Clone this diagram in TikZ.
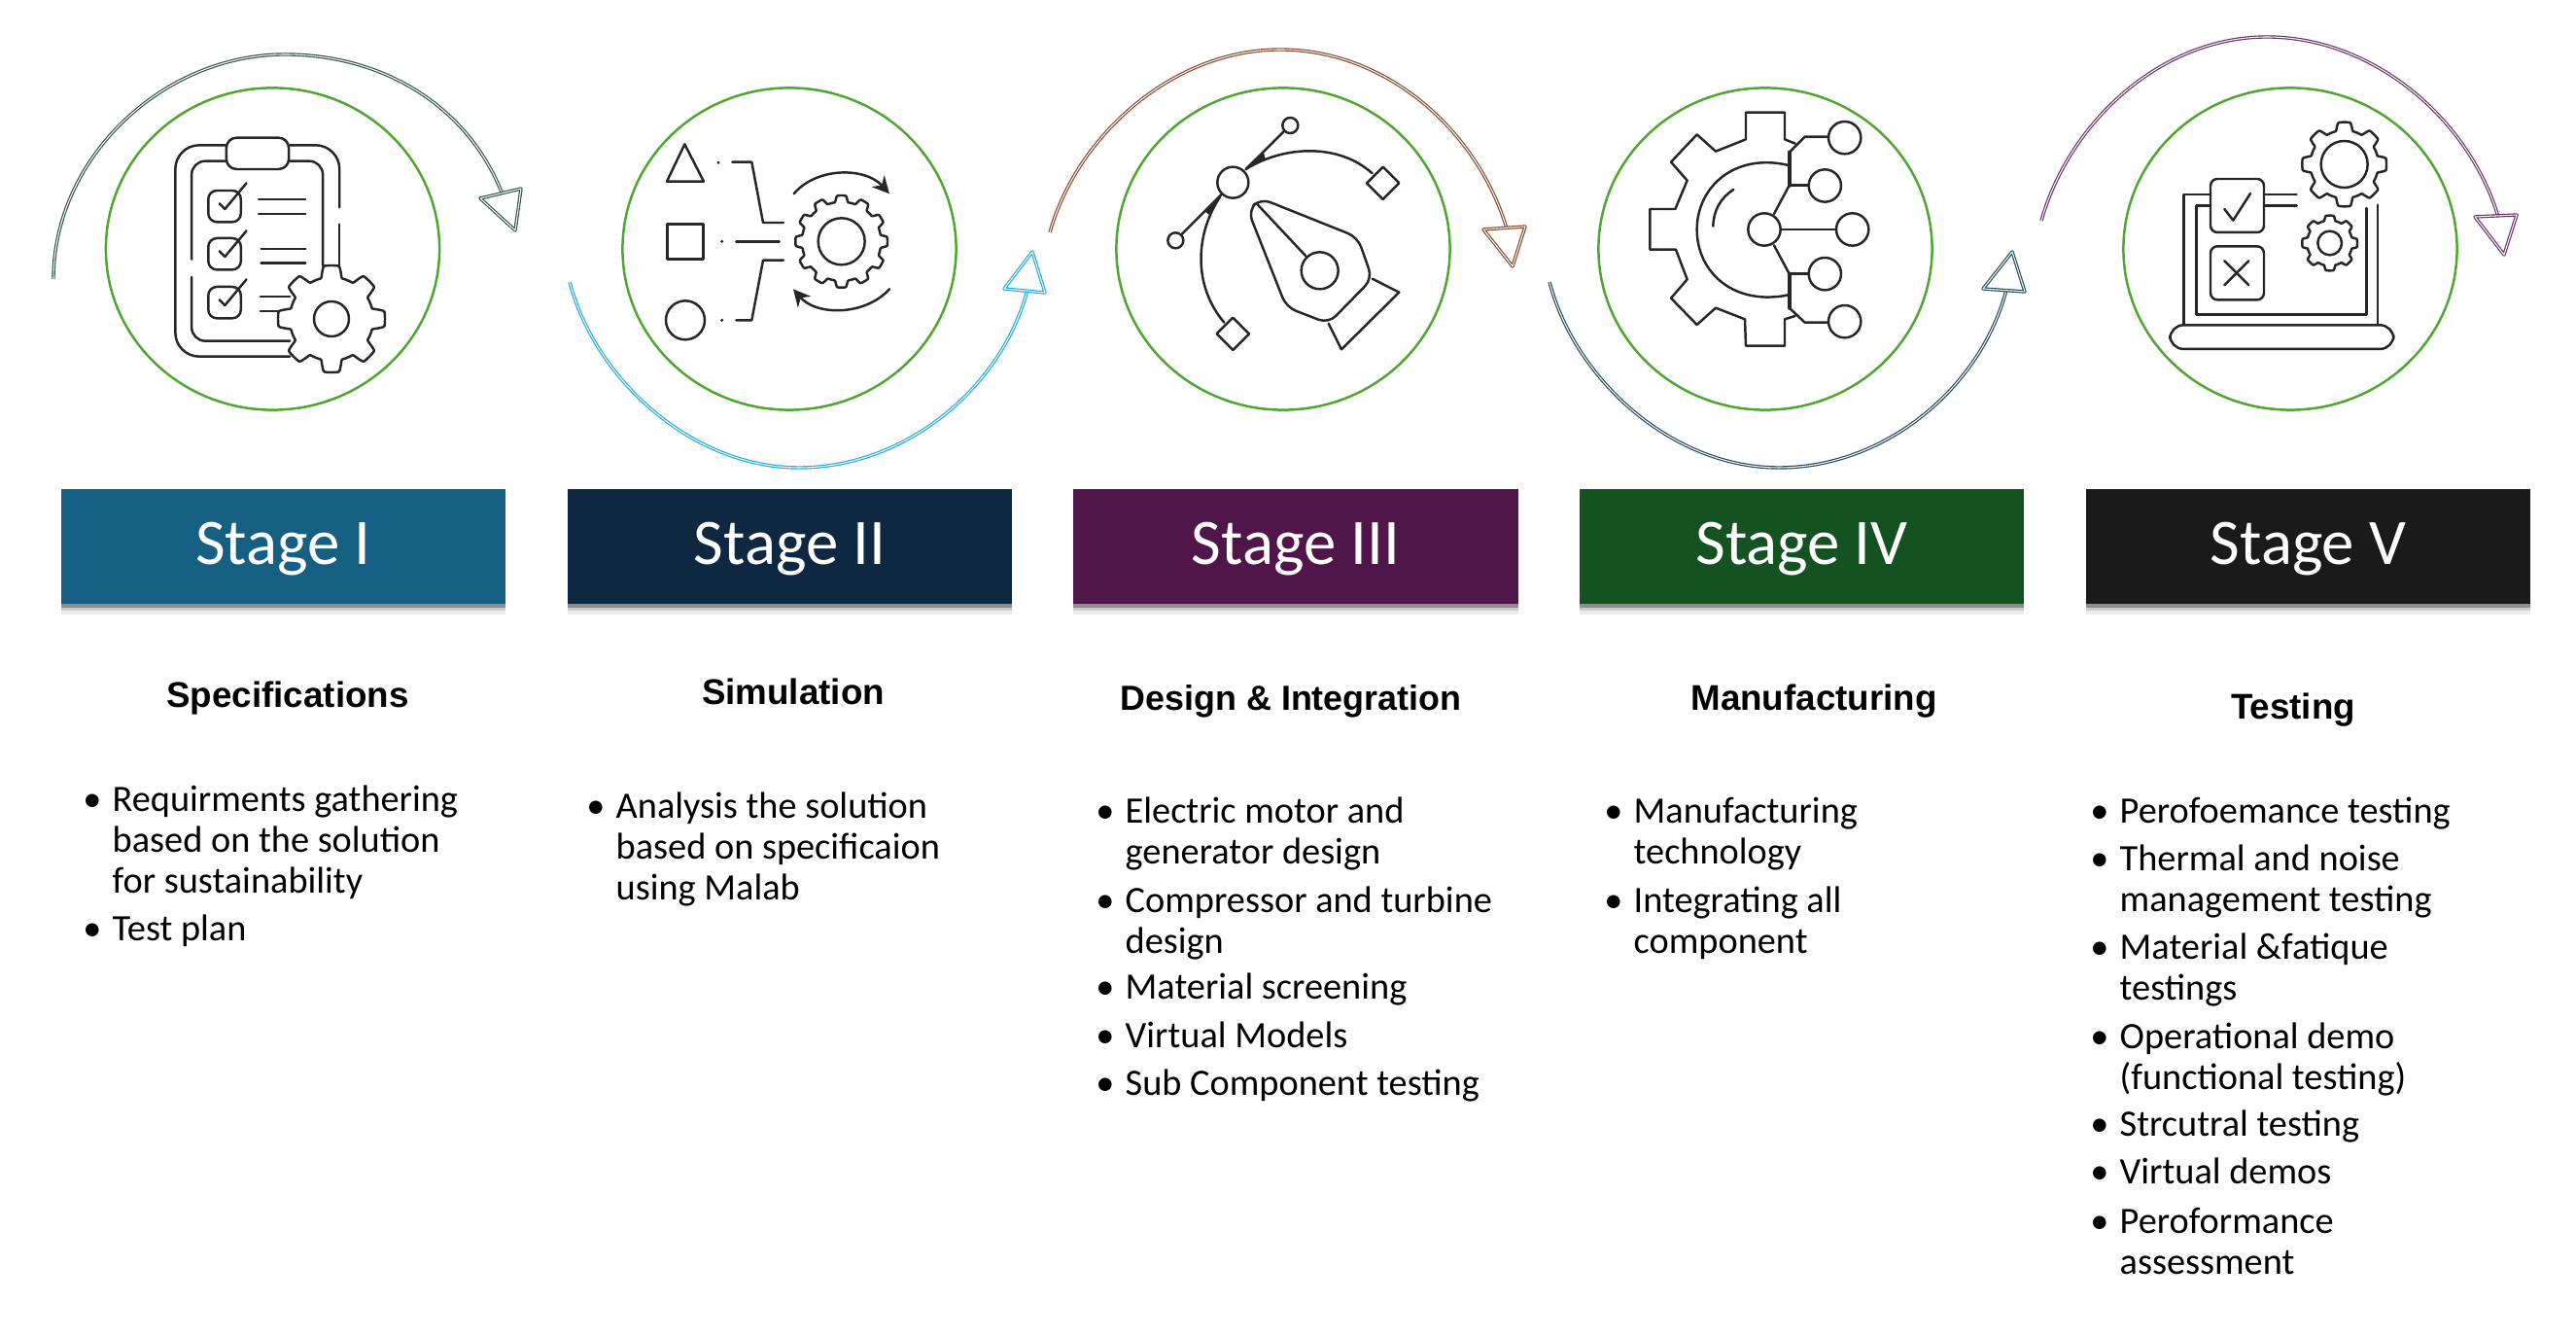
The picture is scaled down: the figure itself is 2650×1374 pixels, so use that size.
\documentclass[tikz,border=0pt]{standalone}
\usepackage{fontspec}
\setmainfont{Carlito}
\newfontfamily\headfont{Liberation Sans}
\usetikzlibrary{arrows.meta,shapes.geometric,shadows}
\definecolor{stageA}{RGB}{21,96,130}
\definecolor{stageB}{RGB}{14,40,65}
\definecolor{stageC}{RGB}{80,21,73}
\definecolor{stageD}{RGB}{20,82,33}
\definecolor{stageE}{RGB}{26,26,26}
\definecolor{ringgreen}{RGB}{78,167,46}
\definecolor{loopA}{RGB}{45,85,65}
\definecolor{loopB}{RGB}{30,170,235}
\definecolor{loopC}{RGB}{135,70,40}
\definecolor{loopD}{RGB}{30,70,95}
\definecolor{loopE}{RGB}{105,45,105}
\tikzset{
  stagebox/.style={rectangle,minimum width=4.57cm,minimum height=1.18cm,inner sep=0pt,text=white,
    text height=14pt,text depth=3.3pt,
    font=\fontsize{19pt}{23pt}\selectfont,
    drop shadow={shadow xshift=0pt,shadow yshift=-3pt,fill=black,opacity=.07},
    drop shadow={shadow xshift=0pt,shadow yshift=-2pt,fill=black,opacity=.14},
    drop shadow={shadow xshift=0pt,shadow yshift=-1pt,fill=black,opacity=.3}},
  headtext/.style={inner sep=0pt,font=\headfont\bfseries\fontsize{10.45pt}{12pt}\selectfont},
  itemtext/.style={anchor=base west,inner sep=0pt,align=left,font=\fontsize{10.9pt}{11.95pt}\selectfont},
  ringnode/.style={ellipse,draw=ringgreen,line width=0.7pt,minimum width=3.43cm,minimum height=3.31cm,inner sep=0pt},
  iconline/.style={draw=black!85,line width=0.7pt,line join=round,line cap=round},
  loopline/.style={line width=0.33pt,double=white,double distance=0.3pt},
  looptip/.style={loopline,line join=round}
}
\newcommand{\bul}{\llap{•\hspace{3.2pt}}}
% gear outline: centre x, centre y, inner radius, outer radius, teeth, hole
\newcommand{\gearicon}[6]{
  \draw[iconline,fill=white] plot[domain=0:360,samples=241,variable=\ang]
    ({#1+(#3+(#4-#3)*max(0,min(1,.5+1.3*cos(#5*\ang))))*cos(\ang)},
     {#2+(#3+(#4-#3)*max(0,min(1,.5+1.3*cos(#5*\ang))))*sin(\ang)}) -- cycle;
  \draw[iconline] (#1,#2) circle (#6);
}
\begin{document}
\begin{tikzpicture}[x=0.01cm,y=-0.01cm]
  \useasboundingbox (0,0) rectangle (2650,1374);
  \fill[white] (0,0) rectangle (2650,1374);
  % rings
  \node[ringnode] (ring1) at (280.5,256) {};
  \node[ringnode] (ring2) at (812,256) {};
  \node[ringnode] (ring3) at (1320,256) {};
  \node[ringnode] (ring4) at (1816,256) {};
  \node[ringnode] (ring5) at (2356,256) {};
  % loops between the stages
  \coordinate (loop1s) at (55,287);
  \coordinate (loop1m) at (293,56);
  \coordinate (loop1e) at (517,200);
  \draw[loopline,loopA] (loop1s) .. controls +(0,-125) and +(-125,0) .. (loop1m)
     .. controls +(100,0) and +(-36,-92) .. (loop1e);
  \draw[looptip,loopA] (494,204) -- (536,194) -- (530,237) -- cycle;
  \coordinate (loop2s) at (586,290);
  \coordinate (loop2m) at (822,481);
  \coordinate (loop2e) at (1057,298);
  \draw[loopline,loopB] (loop2s) .. controls +(26,100) and +(-110,0) .. (loop2m)
     .. controls +(110,0) and +(-26,100) .. (loop2e);
  \draw[looptip,loopB] (1033,297) -- (1062,259) -- (1075,301) -- cycle;
  \coordinate (loop3s) at (1080,239);
  \coordinate (loop3m) at (1317,51);
  \coordinate (loop3e) at (1550,235);
  \draw[loopline,loopC] (loop3s) .. controls +(28,-100) and +(-110,0) .. (loop3m)
     .. controls +(110,0) and +(-30,-100) .. (loop3e);
  \draw[looptip,loopC] (1526,236) -- (1569,233) -- (1556,274) -- cycle;
  \coordinate (loop4s) at (1594,290);
  \coordinate (loop4m) at (1830,481);
  \coordinate (loop4e) at (2064,298);
  \draw[loopline,loopD] (loop4s) .. controls +(26,100) and +(-110,0) .. (loop4m)
     .. controls +(110,0) and +(-26,100) .. (loop4e);
  \draw[looptip,loopD] (2040,297) -- (2070,259) -- (2083,300) -- cycle;
  \coordinate (loop5s) at (2100,227);
  \coordinate (loop5m) at (2332,38);
  \coordinate (loop5e) at (2570,223);
  \draw[loopline,loopE] (loop5s) .. controls +(28,-100) and +(-110,0) .. (loop5m)
     .. controls +(110,0) and +(-30,-100) .. (loop5e);
  \draw[looptip,loopE] (2546,223) -- (2589,221) -- (2576,262) -- cycle;
  % clipboard
  \begin{scope}[shift={(0,20)},xscale=1/2.8,yscale=1/3]
    \draw[iconline,rounded corners=7pt] (650,388) -- (505,388) -- (505,1040) -- (835,1040);
    \draw[iconline,rounded corners=7pt] (835,388) -- (978,388) -- (978,580);
    \draw[iconline] (978,632) -- (978,760);
    \draw[iconline,rounded corners=4pt] (650,437) -- (552,437) -- (552,740);
    \draw[iconline,rounded corners=4pt] (552,795) -- (552,992) -- (835,992);
    \draw[iconline,rounded corners=4pt] (835,437) -- (930,437) -- (930,760);
    \draw[iconline,rounded corners=3pt] (652,365) rectangle (832,462);
    \foreach \boxy in {528,675,825} {
      \draw[iconline,rounded corners=2.5pt] (600,\boxy) rectangle +(94,97);
      \draw[iconline] (632,\boxy+40) -- (648,\boxy+57) -- (710,\boxy-23);
    }
    \draw[iconline] (745,555) -- (880,555);
    \draw[iconline] (745,600) -- (880,600);
    \draw[iconline] (752,708) -- (880,708);
    \draw[iconline] (752,752) -- (880,752);
    \draw[iconline] (750,855) -- (835,855);
    \draw[iconline] (750,900) -- (810,900);
  \end{scope}
  \gearicon{341}{328}{43}{55}{8}{18}
  % shapes and gear
  \begin{scope}[shift={(560,20)},scale=1/3]
    \draw[iconline] (433,385) -- (492,500) -- (378,500) -- cycle;
    \draw[iconline] (380,632) rectangle (490,740);
    \draw[iconline] (435,928) circle (60);
    \fill[black!85] (537,442) circle (5);
    \fill[black!85] (548,685) circle (5);
    \fill[black!85] (548,928) circle (5);
    \draw[iconline] (580,440) -- (640,440) -- (675,627) -- (738,627);
    \draw[iconline] (592,685) -- (725,685);
    \draw[iconline] (592,928) -- (640,928) -- (675,743) -- (738,743);
    \draw[iconline,-{Stealth[length=5pt,width=5pt]}] (770,538) .. controls (840,455) and (990,455) .. (1065,538);
    \draw[iconline,-{Stealth[length=5pt,width=5pt]}] (1065,832) .. controls (990,915) and (840,915) .. (768,832);
    \gearicon{917}{685}{122}{142}{12}{72}
  \end{scope}
  % pen nib and curve
  \begin{scope}[shift={(1060,20)},scale=1/3]
    \draw[iconline] (625,503) circle (48);
    \draw[iconline] (802,327) circle (24);
    \draw[iconline] (448,682) circle (24);
    \draw[iconline] (1088,455) -- (1138,505) -- (1088,555) -- (1038,505) -- cycle;
    \draw[iconline] (625,920) -- (675,970) -- (625,1020) -- (575,970) -- cycle;
    \draw[iconline] (665,462) -- (784,344);
    \draw[iconline] (590,540) -- (466,664);
    \draw[iconline] (665,462) .. controls (780,390) and (950,380) .. (1055,475);
    \draw[iconline] (585,548) .. controls (510,660) and (500,820) .. (598,935);
    \fill[black!85] (668,462) -- (720,410) -- (725,430) -- cycle;
    \fill[black!85] (585,545) -- (538,592) -- (555,605) -- cycle;
    \draw[iconline,rounded corners=3pt] (710,552) -- (1010,672) -- (1055,800) -- (920,938) -- (790,888) -- (672,590) -- cycle;
    \draw[iconline] (700,570) -- (850,730);
    \draw[iconline] (893,775) circle (57);
    \draw[iconline] (1055,800) -- (1138,842) -- (960,1018) -- (920,938);
  \end{scope}
  % half gear and nodes
  \begin{scope}[shift={(1570,50)},scale=1/3]
    \draw[iconline] (830,293) -- (798,280) -- (798,197) -- (678,197) -- (678,280) -- (585,317) -- (527,265) -- (447,350)
      -- (497,407) -- (460,495) -- (382,495) -- (382,620) -- (462,620) -- (497,712) -- (447,770) -- (527,852)
      -- (585,800) -- (675,835) -- (678,917) -- (798,917) -- (798,835) -- (830,825);
    \draw[iconline] (810,360) .. controls (640,320) and (527,430) .. (527,558) .. controls (527,690) and (640,795) .. (810,760);
    \draw[iconline] (640,435) .. controls (600,460) and (578,500) .. (577,548);
    \draw[iconline,line width=1.2pt] (812,320) -- (812,422);
    \draw[iconline,line width=1.2pt] (812,695) -- (812,800);
    \draw[iconline] (812,320) -- (860,272) -- (933,272);
    \draw[iconline] (812,422) -- (872,422);
    \draw[iconline] (785,558) -- (957,558);
    \draw[iconline] (765,510) -- (812,422);
    \draw[iconline] (765,607) -- (812,695);
    \draw[iconline] (812,695) -- (872,695);
    \draw[iconline] (812,800) -- (860,845) -- (933,845);
    \draw[iconline] (983,275) circle (50);
    \draw[iconline] (922,423) circle (50);
    \draw[iconline] (735,558) circle (50);
    \draw[iconline] (1007,558) circle (50);
    \draw[iconline] (922,695) circle (50);
    \draw[iconline] (983,842) circle (50);
  \end{scope}
  % laptop
  \begin{scope}[shift={(2080,20)},scale=1/3]
    \gearicon{995}{447}{105}{130}{8}{72}
    \gearicon{950}{690}{70}{85}{8}{37}
    \draw[iconline,rounded corners=2pt] (582,492) rectangle (747,657);
    \draw[iconline] (625,585) -- (652,620) -- (705,537);
    \draw[iconline,rounded corners=2pt] (582,700) rectangle (747,865);
    \draw[iconline] (625,745) -- (700,820);
    \draw[iconline] (700,745) -- (625,820);
    \draw[iconline] (582,540) -- (500,540) -- (500,942);
    \draw[iconline] (582,575) -- (538,575) -- (538,910) -- (1063,910) -- (1063,582);
    \draw[iconline] (1098,572) -- (1098,942);
    \draw[iconline] (747,540) -- (848,540);
    \draw[iconline] (747,575) -- (848,575);
    \draw[iconline,rounded corners=4pt] (457,943) rectangle (1147,1017);
  \end{scope}
  % stage boxes
  \node[stagebox,fill=stageA] (stage1) at (291.5,562) {Stage I};
  \node[stagebox,fill=stageB] (stage2) at (812.5,562) {Stage II};
  \node[stagebox,fill=stageC] (stage3) at (1333,562) {Stage III};
  \node[stagebox,fill=stageD] (stage4) at (1853.5,562) {Stage IV};
  \node[stagebox,fill=stageE] (stage5) at (2374.5,562) {Stage V};
  % headings
  \node[headtext] (head1) at (296,718) {Specifications};
  \node[headtext] (head2) at (816,711) {Simulation};
  \node[headtext,font=\headfont\bfseries\fontsize{10.2pt}{12pt}\selectfont] (head3) at (1328,721) {Design \& Integration};
  \node[headtext] (head4) at (1866,721) {Manufacturing};
  \node[headtext] (head5) at (2359,730) {Testing};
  % lists
  \node[itemtext] (item1a) at (115,919) {\bul Requirments gathering\\based on the solution\\for sustainability};
  \node[itemtext] (item1b) at (115,968) {\bul Test plan};
  \node[itemtext] (item2a) at (633,926) {\bul Analysis the solution\\based on specificaion\\using Malab};
  \node[itemtext] (item3a) at (1157,889) {\bul Electric motor and\\generator design};
  \node[itemtext] (item3b) at (1157,981) {\bul Compressor and turbine\\design};
  \node[itemtext] (item3c) at (1157,1028) {\bul Material screening};
  \node[itemtext] (item3d) at (1157,1078) {\bul Virtual Models};
  \node[itemtext] (item3e) at (1157,1127) {\bul Sub Component testing};
  \node[itemtext] (item4a) at (1680,889) {\bul Manufacturing\\technology};
  \node[itemtext] (item4b) at (1680,981) {\bul Integrating all\\component};
  \node[itemtext] (item5a) at (2180,847) {\bul Perofoemance testing};
  \node[itemtext] (item5b) at (2180,938) {\bul Thermal and noise\\management testing};
  \node[itemtext] (item5c) at (2180,1029) {\bul Material \&fatique\\testings};
  \node[itemtext] (item5d) at (2180,1121) {\bul Operational demo\\(functional testing)};
  \node[itemtext] (item5e) at (2180,1169) {\bul Strcutral testing};
  \node[itemtext] (item5f) at (2180,1218) {\bul Virtual demos};
  \node[itemtext] (item5g) at (2180,1311) {\bul Peroformance\\assessment};
\end{tikzpicture}
\end{document}
